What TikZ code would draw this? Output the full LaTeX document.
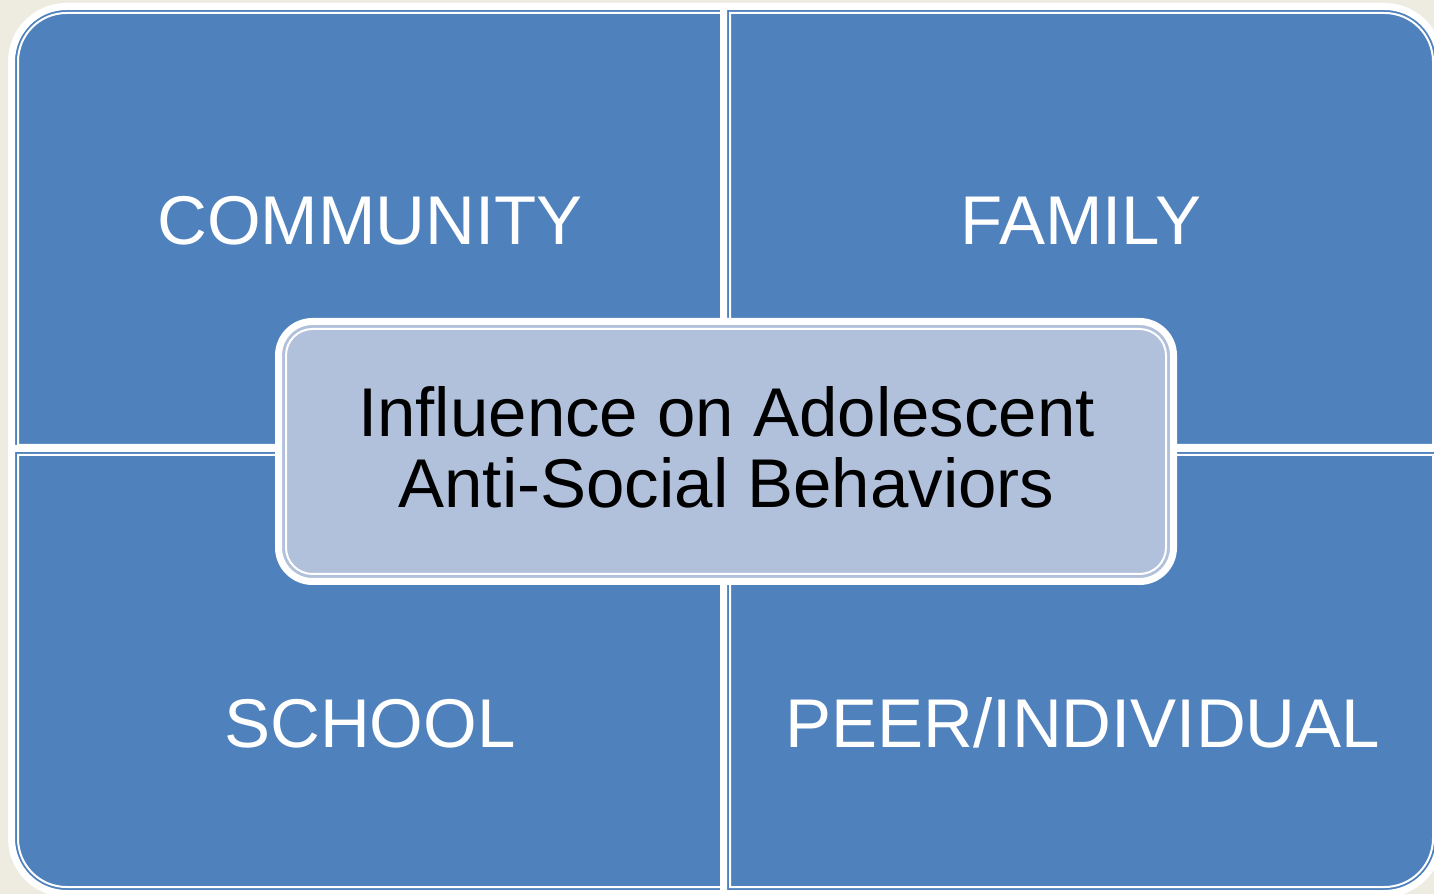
\documentclass[tikz,border=0pt]{standalone}
\usepackage{fontspec}
\setmainfont{Liberation Sans}
\definecolor{quadblue}{HTML}{4F81BD}
\definecolor{coreblue}{HTML}{B1C1DB}
\definecolor{paper}{HTML}{EEECE1}
\tikzset{
  quadfill/.style={fill=quadblue, draw=white, line width=7pt},
  quadinner/.style={draw=white, line width=2pt},
  quadlabel/.style={text=white, anchor=base, inner sep=0pt, font=\fontsize{69}{71}\selectfont},
  corebox/.style={fill=coreblue, draw=white, line width=7pt, rounded corners=34pt, minimum width=895pt, minimum height=260pt, inner sep=0pt, outer sep=0pt},
  coreinner/.style={draw=white, line width=2pt, rounded corners=26.5pt},
  corelabel/.style={text=black, align=center, inner sep=0pt, font=\fontsize{69}{71}\selectfont}
}
\begin{document}
\begin{tikzpicture}[x=1pt,y=1pt]
\useasboundingbox (0,0) rectangle (1434,894);
\fill[paper] (0,0) rectangle (1434,894);
% top-left quadrant
\path[quadfill] (11.5,442.5) -- (11.5,832.5) arc[start angle=180,end angle=90,radius=55] -- (727.5,887.5) -- (727.5,442.5) -- cycle;
\path[quadinner] (18,449) -- (18,832.5) arc[start angle=180,end angle=90,radius=48.5] -- (721,881) -- (721,449) -- cycle;
% top-right quadrant
\path[quadfill] (723.5,442.5) -- (723.5,887.5) -- (1384.5,887.5) arc[start angle=90,end angle=0,radius=55] -- (1439.5,442.5) -- cycle;
\path[quadinner] (730,449) -- (730,881) -- (1384.5,881) arc[start angle=90,end angle=0,radius=48.5] -- (1433,449) -- cycle;
% bottom-left quadrant
\path[quadfill] (11.5,445.5) -- (727.5,445.5) -- (727.5,0.5) -- (66.5,0.5) arc[start angle=270,end angle=180,radius=55] -- cycle;
\path[quadinner] (18,439) -- (721,439) -- (721,7) -- (66.5,7) arc[start angle=270,end angle=180,radius=48.5] -- cycle;
% bottom-right quadrant
\path[quadfill] (723.5,445.5) -- (1439.5,445.5) -- (1439.5,55.5) arc[start angle=0,end angle=-90,radius=55] -- (723.5,0.5) -- cycle;
\path[quadinner] (730,439) -- (1433,439) -- (1433,55.5) arc[start angle=0,end angle=-90,radius=48.5] -- (730,7) -- cycle;
% labels
\node[quadlabel] (community) at (370,649) {COMMUNITY};
\node[quadlabel] (family) at (1081,649) {FAMILY};
\node[quadlabel] (school) at (370,146) {SCHOOL};
\node[quadlabel] (peer) at (1083,146) {PEER/INDIVIDUAL};
% centre box
\node[corebox] (core) at (726,442.5) {};
\path[coreinner] ([shift={(7.5,7.5)}]core.south west) rectangle ([shift={(-7.5,-7.5)}]core.north east);
\node[corelabel] (coretext) at (726.5,446.5) {Influence on Adolescent\\Anti-Social Behaviors};
\end{tikzpicture}
\end{document}
